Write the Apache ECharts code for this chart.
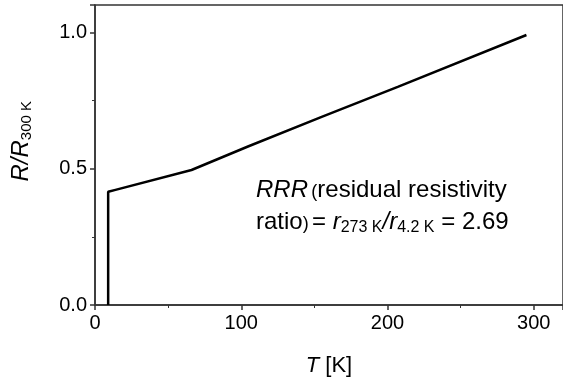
<!DOCTYPE html>
<html>
<head>
<meta charset="utf-8">
<script src="https://cdn.jsdelivr.net/npm/echarts@6/dist/echarts.min.js"></script>
<style>
  html, body { margin: 0; padding: 0; background: #fff; }
  #chart { width: 563px; height: 383px; }
</style>
</head>
<body>
<div id="chart"></div>
<script>
// temperature [K] and normalised resistance R/R300K
const temps = [9, 9, 14, 66, 105, 155, 207, 295]
const ratios = [0, 0.415, 0.422, 0.495, 0.582, 0.69, 0.8, 0.99]
const xTicks = [0, 100, 200, 300]
const yTicks = [0.0, 0.5, 1.0]

const font = '"Liberation Sans", Arial, sans-serif'
const chart = echarts.init(document.getElementById('chart'))

const option = {
  animation: false,
  grid: {
    left: 95, right: -3, top: 5, bottom: 78,
    show: true, borderColor: '#333', borderWidth: 1.5
  },
  xAxis: {
    type: 'value', min: 0, max: 320, interval: 100,
    axisLine: { lineStyle: { color: '#333', width: 1.5 } },
    axisTick: { length: 5, lineStyle: { color: '#333', width: 1.5 } },
    minorTick: { show: true, splitNumber: 2, length: 3, lineStyle: { color: '#333' } },
    splitLine: { show: false },
    axisLabel: {
      color: '#000', fontSize: 20, fontFamily: font, margin: 8,
      showMaxLabel: false,
      formatter: v => xTicks.includes(v) ? String(v) : ''
    },
    name: '{i|T} [K]',
    nameLocation: 'middle',
    nameGap: 50,
    nameTextStyle: {
      color: '#000', fontSize: 22, fontFamily: font,
      rich: { i: { fontStyle: 'italic', fontSize: 22, fontFamily: font, color: '#000' } }
    }
  },
  yAxis: {
    type: 'value', min: 0, max: 1.1, interval: 0.5,
    axisLine: { show: true, lineStyle: { color: '#333', width: 1.5 } },
    axisTick: { show: true, length: 5, lineStyle: { color: '#333', width: 1.5 } },
    minorTick: { show: true, splitNumber: 2, length: 3, lineStyle: { color: '#333' } },
    splitLine: { show: false },
    axisLabel: {
      color: '#000', fontSize: 20, fontFamily: font, margin: 8,
      showMaxLabel: false,
      formatter: v => yTicks.includes(v) ? v.toFixed(1) : ''
    }
  },
  graphic: [
    {
      type: 'text', left: 8, top: 101, rotation: Math.PI / 2,
      style: {
        text: '{i|R/R}{s|300 K}',
        fill: '#000',
        rich: {
          i: { fontStyle: 'italic', fontSize: 24, fontFamily: font, fill: '#000', lineHeight: 28 },
          s: { fontSize: 15, fontFamily: font, fill: '#000', lineHeight: 28, padding: [11, 0, 0, 0] }
        }
      }
    },
    {
      type: 'text', left: 256, top: 178,
      style: {
        text: '{i|RRR} {p|(}{n|residual resistivity}\n{n|ratio}{p|)} {n|= }{i|r}{s|273 K}{i|/r}{s|4.2 K}{n| = 2.69}',
        fill: '#000',
        rich: {
          i: { fontStyle: 'italic', fontSize: 24, fontFamily: font, fill: '#000', lineHeight: 32 },
          n: { fontSize: 24, fontFamily: font, fill: '#000', lineHeight: 32 },
          p: { fontSize: 18, fontFamily: font, fill: '#000', lineHeight: 32, padding: [4, 0, 0, 0] },
          s: { fontSize: 16, fontFamily: font, fill: '#000', lineHeight: 32, padding: [11, 0, 0, 0] }
        }
      }
    }
  ],
  series: [{
    type: 'line',
    data: temps.map((t, i) => [t, ratios[i]]),
    showSymbol: false,
    lineStyle: { color: '#000', width: 2.5 },
    itemStyle: { color: '#000' }
  }]
}

chart.setOption(option)
</script>
</body>
</html>
